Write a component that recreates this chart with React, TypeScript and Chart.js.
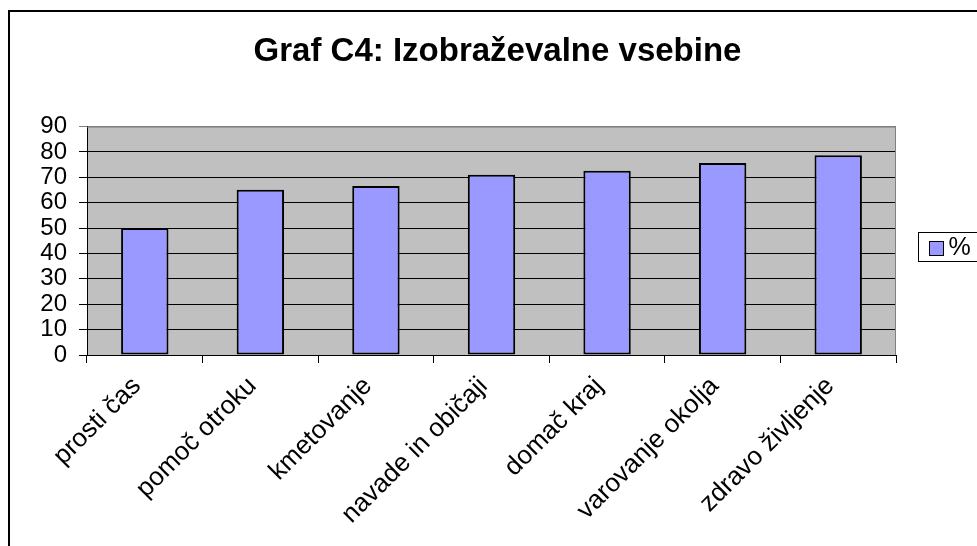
import React, { useEffect, useRef } from "react";
import { Chart, registerables } from "chart.js";

Chart.register(...registerables);

const TITLE = "Graf C4: Izobraževalne vsebine";
const categories = [
  "prosti čas",
  "pomoč otroku",
  "kmetovanje",
  "navade in običaji",
  "domač kraj",
  "varovanje okolja",
  "zdravo življenje",
];
const seriesLabel = "%";
const values = [50, 65.1, 66.6, 71, 72.6, 75.7, 78.7];
const yMin = 0;
const yMax = 90;
const yStep = 10;

const FONT = "'Liberation Sans', Arial, sans-serif";

const framePlugin = {
  id: "frameAndBg",
  beforeDraw(chart: any) {
    const { ctx, chartArea } = chart;
    ctx.save();
    ctx.fillStyle = "#ffffff";
    ctx.fillRect(0, 0, chart.width, chart.height);
    ctx.fillStyle = "#C0C0C0";
    ctx.fillRect(chartArea.left, chartArea.top, chartArea.right - chartArea.left, chartArea.bottom - chartArea.top);
    // outer frame
    ctx.strokeStyle = "#000";
    ctx.lineWidth = 2;
    ctx.beginPath();
    ctx.moveTo(9, chart.height + 2);
    ctx.lineTo(9, 11);
    ctx.lineTo(chart.width + 2, 11);
    ctx.stroke();
    ctx.restore();
  },
  afterDatasetsDraw(chart: any) {
    const { ctx, chartArea } = chart;
    ctx.save();
    // plot area border (top & right), gray
    ctx.strokeStyle = "#808080";
    ctx.lineWidth = 1;
    ctx.beginPath();
    ctx.moveTo(chartArea.left, chartArea.top + 0.5);
    ctx.lineTo(chartArea.right - 0.5, chartArea.top + 0.5);
    ctx.lineTo(chartArea.right - 0.5, chartArea.bottom);
    ctx.stroke();
    // legend
    const ds = chart.data.datasets[0];
    const lx = 918.5;
    const ly = 232.5;
    ctx.strokeStyle = "#000";
    ctx.lineWidth = 1;
    ctx.strokeRect(lx, ly, 80, 29);
    ctx.fillStyle = ds.backgroundColor;
    ctx.fillRect(lx + 11, ly + 9, 14, 14);
    ctx.strokeRect(lx + 11, ly + 9, 14, 14);
    ctx.fillStyle = "#000";
    ctx.font = `25px ${FONT}`;
    ctx.textBaseline = "middle";
    ctx.textAlign = "left";
    ctx.fillText(ds.label, lx + 30, ly + 15.5);
    ctx.restore();
  },
};

export default function App() {
  const ref = useRef<HTMLCanvasElement>(null);
  useEffect(() => {
    document.body.style.margin = "0";
    const chart = new Chart(ref.current as HTMLCanvasElement, {
      type: "bar",
      data: {
        labels: categories,
        datasets: [
          {
            label: seriesLabel,
            data: values,
            backgroundColor: "#9999FF",
            borderColor: "#000000",
            borderWidth: 2,
            borderSkipped: false,
            categoryPercentage: 1,
            barPercentage: 0.41,
          },
        ],
      },
      options: {
        animation: false,
        responsive: false,
        devicePixelRatio: 1,
        layout: { padding: { left: 18, top: 0, right: 0, bottom: 0 } },
        plugins: {
          legend: { display: false },
          tooltip: { enabled: false },
          title: {
            display: true,
            text: TITLE,
            color: "#000",
            font: { family: FONT, size: 33, weight: "bold", lineHeight: 1.2 },
            padding: { top: 32, bottom: 55 },
          },
        },
        scales: {
          x: {
            grid: {
              offset: true,
              drawOnChartArea: false,
              drawTicks: true,
              tickLength: 8,
              color: "#000",
            },
            border: { color: "#000", width: 1 },
            ticks: {
              color: "#000",
              font: { family: FONT, size: 26 },
              minRotation: 45,
              maxRotation: 45,
              autoSkip: false,
              padding: 8,
              labelOffset: -8,
            },
            afterFit: (s: any) => {
              s.height = 191;
            },
          },
          y: {
            min: yMin,
            max: yMax,
            ticks: {
              stepSize: yStep,
              autoSkip: false,
              color: "#000",
              font: { family: FONT, size: 24, lineHeight: 1 },
              padding: 12,
            },
            grid: {
              color: (c: any) => (c.tick && c.tick.value === yMax ? "#808080" : "#000"),
              tickLength: 8,
              lineWidth: 1,
            },
            border: { color: "#000", width: 1 },
            afterFit: (s: any) => {
              s.width = 69;
            },
          },
          y2: {
            position: "right",
            display: true,
            grid: { display: false, drawTicks: false },
            border: { display: false },
            ticks: { display: false },
            afterFit: (s: any) => {
              s.width = 81;
            },
          },
        },
      },
      plugins: [framePlugin],
    } as any);
    return () => chart.destroy();
  }, []);
  return (
    <div style={{ position: "fixed", left: 0, top: 0, width: 977, height: 546, background: "#fff" }}>
      <canvas ref={ref} width={977} height={546} style={{ display: "block" }} />
    </div>
  );
}
